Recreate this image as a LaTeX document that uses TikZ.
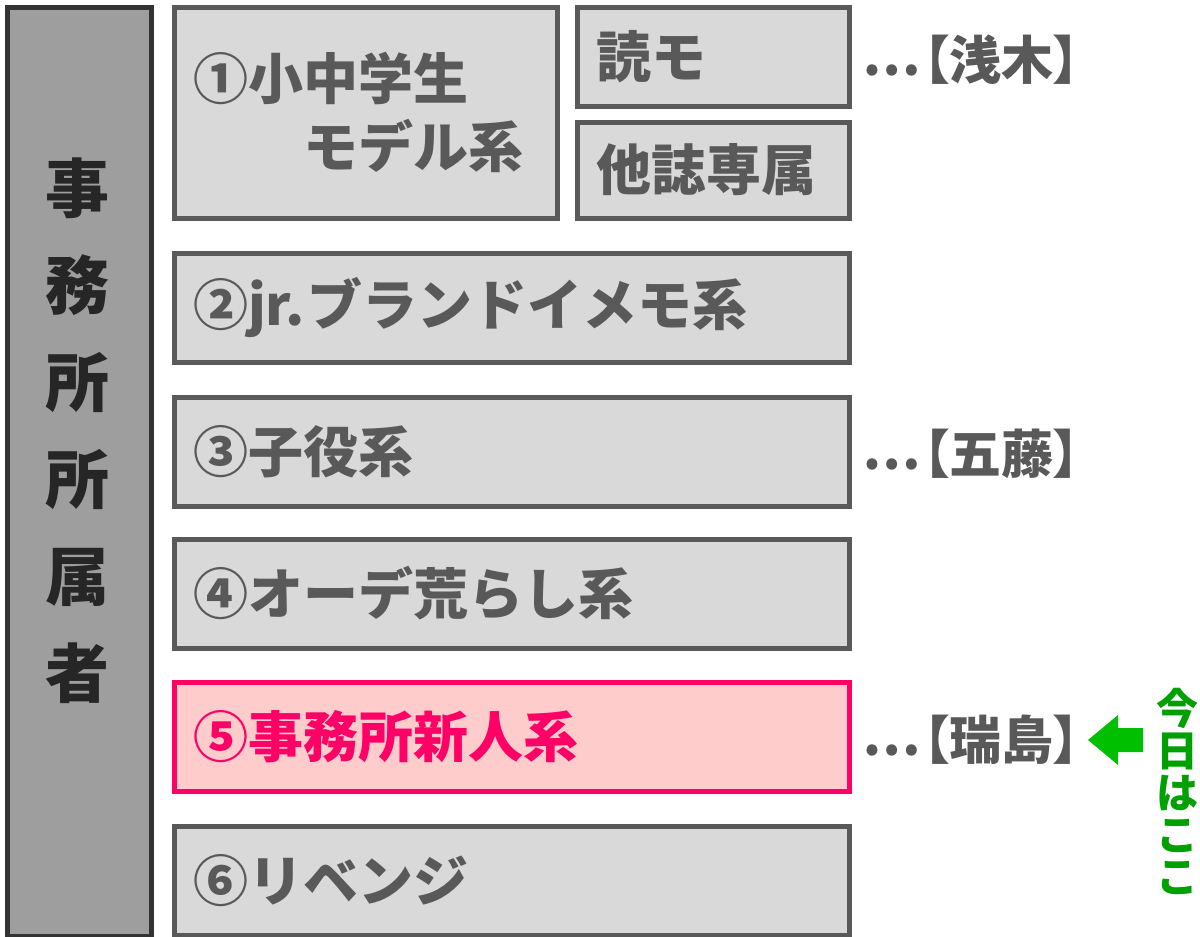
\documentclass[tikz,border=0pt]{standalone}
\usepackage{fontspec}
\setmainfont{Noto Sans CJK JP}
\definecolor{boxline}{HTML}{595959}
\definecolor{boxfill}{HTML}{D9D9D9}
\definecolor{boxtext}{HTML}{595959}
\definecolor{barfill}{HTML}{9E9E9E}
\definecolor{barline}{HTML}{333333}
\definecolor{bartext}{HTML}{262626}
\definecolor{pinkfill}{HTML}{FFCCCC}
\definecolor{pinkline}{HTML}{FF0066}
\definecolor{arrowgreen}{HTML}{00BF00}
\definecolor{textgreen}{HTML}{00A000}
\tikzset{
  gbox/.style={draw=boxline, fill=boxfill, line width=5pt, inner xsep=19pt, inner ysep=0pt,
    anchor=north west, font=\fontsize{55}{68}\selectfont\bfseries, text=boxtext, align=left},
  pbox/.style={gbox, draw=pinkline, fill=pinkfill, text=pinkline},
  lbl/.style={anchor=west, inner sep=0pt, font=\fontsize{52}{56}\selectfont\bfseries\addfontfeature{RawFeature=+palt}, text=boxtext},
}
\newcommand{\mydots}{\raisebox{0.08em}{⋯}\kern0.05em}
\begin{document}
\begin{tikzpicture}[x=1pt,y=-1pt]
\useasboundingbox (0,0) rectangle (1200,937);
% left bar
\node[draw=barline, fill=barfill, line width=5.5pt, anchor=north west, inner sep=0pt,
  minimum width=144pt, minimum height=929pt] (bar) at (4.5,4.5) {};
\node[inner sep=0pt, align=center, text=bartext,
  font=\fontsize{64}{97}\selectfont\bfseries] (bartxt) at (77,431) {事\\務\\所\\所\\属\\者};
% box 1
\node[gbox, minimum width=383pt, minimum height=211pt, text width=345pt] (b1) at (171.5,4.5)
  {①小中学生\\\hspace*{2.0em}モデル系};
\node[gbox, minimum width=272pt, minimum height=99pt, text width=234pt] (b1a) at (574.5,4.5) {読モ};
\node[gbox, minimum width=272pt, minimum height=96pt, text width=234pt] (b1b) at (574.5,119.5) {他誌専属};
% boxes 2-6
\node[gbox, minimum width=675pt, minimum height=109pt, text width=637pt] (b2) at (171.5,250.5) {②jr.\kern3pt ブランドイメモ系};
\node[gbox, minimum width=675pt, minimum height=109pt, text width=637pt] (b3) at (171.5,394.5) {③子役系};
\node[gbox, minimum width=675pt, minimum height=109pt, text width=637pt] (b4) at (171.5,536.5) {④オーデ荒らし系};
\node[pbox, minimum width=675pt, minimum height=109pt, text width=637pt] (b5) at (171.5,679.5) {⑤事務所新人系};
\node[gbox, minimum width=675pt, minimum height=109pt, text width=637pt] (b6) at (171.5,823.5) {⑥リベンジ};
% labels
\node[lbl] (l1) at (862,60) {\mydots【浅木】};
\node[lbl] (l3) at (862,454) {\mydots【五藤】};
\node[lbl] (l5) at (862,740) {\mydots【瑞島】};
% green arrow and note
\node[inner sep=0pt, align=center, text=textgreen,
  font=\fontsize{42}{42}\selectfont\bfseries] (note) at (1177,791) {今\\日\\は\\こ\\こ};
\fill[arrowgreen] (1088,740) -- (1118,715) -- (1118,728) -- (1143,728) -- (1143,752)
  -- (1118,752) -- (1118,765) -- cycle;
\end{tikzpicture}
\end{document}
